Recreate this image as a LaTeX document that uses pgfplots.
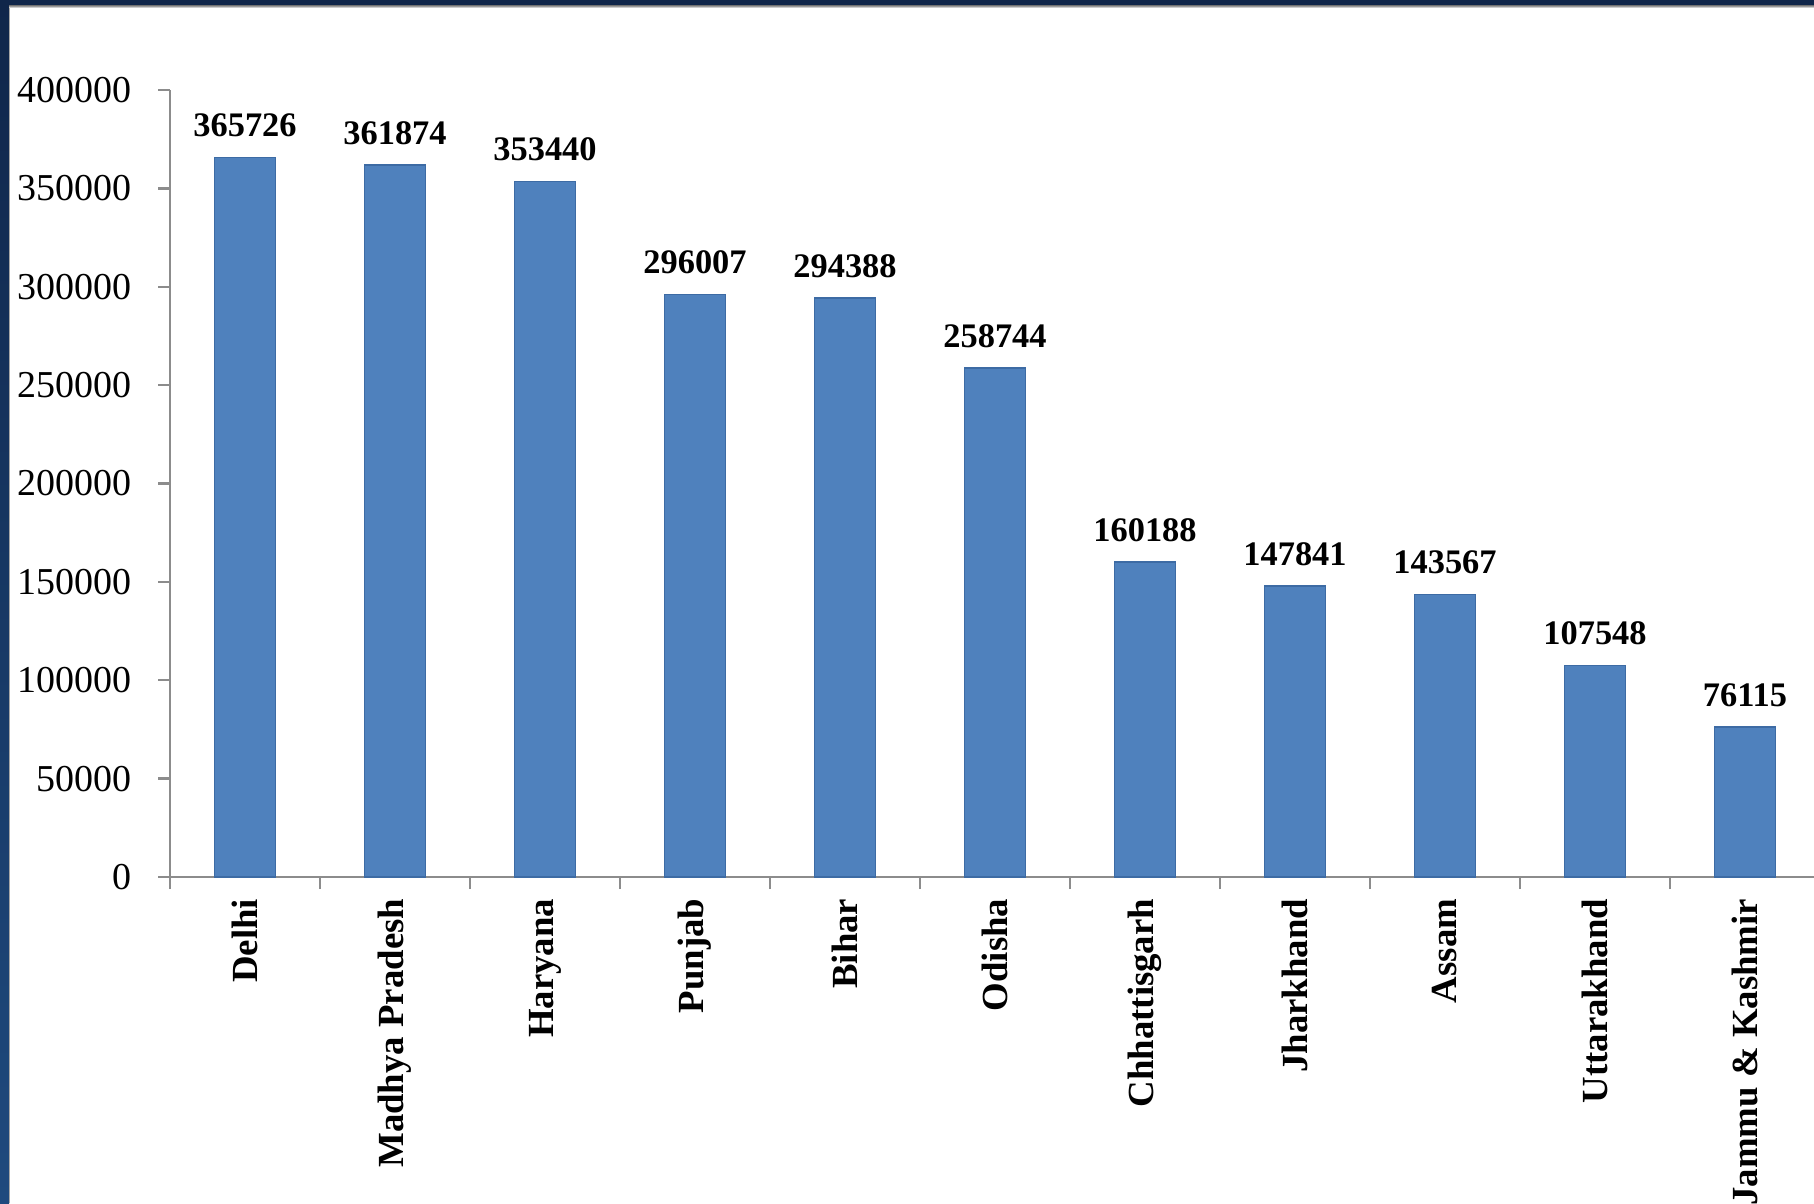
\documentclass[border=0pt]{standalone}
\usepackage{pgfplots}
\pgfplotsset{compat=1.18}
\usepackage{fontspec}
\setmainfont{Liberation Serif}
\definecolor{barblue}{HTML}{4F81BD}
\definecolor{baredge}{HTML}{3D6BA4}
\definecolor{navy}{HTML}{10264A}
\definecolor{sideblue}{HTML}{1F4A7E}
\definecolor{axisgray}{HTML}{8C8C8C}
\begin{document}
\begin{tikzpicture}[x=1pt,y=1pt]
\path[use as bounding box, clip] (0,0) rectangle (453.5,300.75);
\fill[white] (0,0) rectangle (453.5,300.75);
\begin{axis}[
  at={(42.5pt,81.5pt)}, anchor=south west,
  scale only axis, width=412.5pt, height=196.75pt,
  xmin=-0.5, xmax=10.5, ymin=0, ymax=400000,
  ybar, bar width=15.25pt,
  axis x line*=bottom, axis y line*=left,
  axis line style={axisgray, line width=0.6pt},
  xtick={0,...,10},
  xticklabels={Delhi,Madhya Pradesh,Haryana,Punjab,Bihar,Odisha,Chhattisgarh,Jharkhand,Assam,Uttarakhand,Jammu \& Kashmir},
  major x tick style={draw=none},
  minor xtick={-0.5,0.5,...,10.5},
  minor tick length=3pt,
  major tick length=3pt,
  tick align=outside,
  tick style={axisgray, line width=0.6pt},
  ytick={0,50000,...,400000},
  scaled y ticks=false,
  /pgf/number format/fixed,
  /pgf/number format/set thousands separator={},
  /pgf/number format/assume math mode=true,
  y tick label style={font=\fontsize{9.5}{11}\selectfont, anchor=east, inner sep=0pt, xshift=-6.4pt},
  x tick label style={font=\fontsize{9.2}{11}\bfseries, rotate=90, anchor=east, inner sep=0pt},
  xticklabel shift=2.25pt,
  nodes near coords,
  nodes near coords style={font=\fontsize{8.6}{10}\bfseries, inner sep=0pt, anchor=south, yshift=4.9pt},
]
\addplot[fill=barblue, draw=baredge, line width=0.4pt] coordinates {
  (0,365726) (1,361874) (2,353440) (3,296007) (4,294388) (5,258744)
  (6,160188) (7,147841) (8,143567) (9,107548) (10,76115)
};
\end{axis}
\shade[top color=navy, bottom color=sideblue] (0,0) rectangle (2.3,300.75);
\fill[gray!70] (2.3,0) rectangle (2.6,299);
\fill[navy] (0,299.25) rectangle (453.5,300.75);
\shade[top color=gray!80, bottom color=white] (2.3,298.75) rectangle (453.5,299.25);
\end{tikzpicture}
\end{document}
